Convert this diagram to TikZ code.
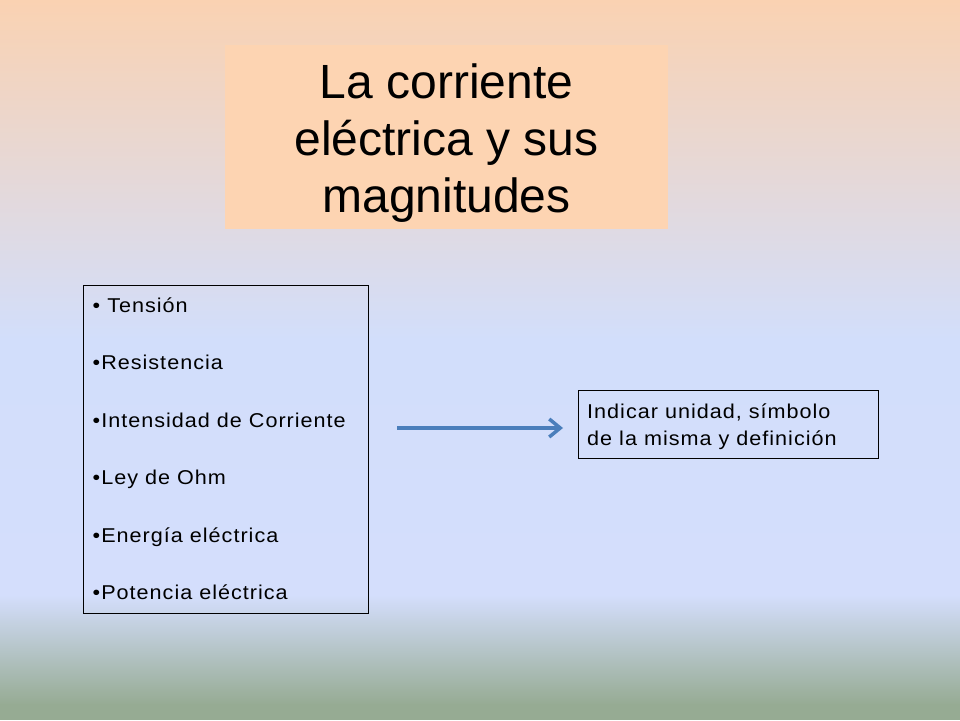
\documentclass[tikz,border=0pt]{standalone}
\usepackage{fontspec}
\setmainfont{Liberation Sans}
\newfontfamily\boxfont[LetterSpace=5,FakeStretch=1.08]{Liberation Sans}
\usetikzlibrary{arrows.meta}
\definecolor{bgtop}{HTML}{FAD2B2}
\definecolor{bgblue}{HTML}{D2DEFB}
\definecolor{bgblue2}{HTML}{D4DEFC}
\definecolor{bggreen}{HTML}{96AB93}
\definecolor{titlefill}{HTML}{FDD4B2}
\definecolor{arrowblue}{HTML}{4A7EBB}
\begin{document}
\begin{tikzpicture}[x=1pt,y=-1pt,
  titlebox/.style={draw=none, fill=titlefill, minimum width=443pt, minimum height=184pt, inner sep=0pt},
  titleline/.style={anchor=base, inner sep=0pt, font=\fontsize{48}{57}\selectfont},
  framebox/.style={draw=black, line width=1pt, inner sep=0pt},
  item/.style={anchor=base west, inner sep=0pt, font=\boxfont\fontsize{20}{24}\selectfont},
  connector/.style={draw=arrowblue, line width=3.5pt, -{Straight Barb[length=11pt,width=18pt]}}
]
\useasboundingbox (0,0) rectangle (960,720);
% background
\shade[top color=bgtop, bottom color=bgblue] (0,0) rectangle (960,340);
\shade[top color=bgblue, bottom color=bgblue2] (0,340) rectangle (960,596);
\shade[top color=bgblue2, bottom color=bggreen] (0,595) rectangle (960,705);
\fill[bggreen] (0,704) rectangle (960,720);
% title
\node[titlebox] (title) at (446.5,137) {};
\node[titleline] (t1) at (446.5,98.5) {La corriente};
\node[titleline] (t2) at (446.5,155) {eléctrica y sus};
\node[titleline] (t3) at (446.5,212) {magnitudes};
% list box
\node[framebox, minimum width=285pt, minimum height=328pt] (list) at (225.5,449) {};
\node[item] (i1) at (92.5,312) {• Tensión};
\node[item] (i2) at (92.5,369.5) {•Resistencia};
\node[item] (i3) at (92.5,427) {•Intensidad de Corriente};
\node[item] (i4) at (92.5,484.5) {•Ley de Ohm};
\node[item] (i5) at (92.5,542) {•Energía eléctrica};
\node[item] (i6) at (92.5,599.5) {•Potencia eléctrica};
% right box
\node[framebox, minimum width=300pt, minimum height=68pt] (info) at (728,424) {};
\node[item] (r1) at (587,418) {Indicar unidad, símbolo};
\node[item] (r2) at (587,445) {de la misma y definición};
% arrow
\coordinate (a1) at (397,428);
\coordinate (a2) at (563,428);
\draw[connector] (a1) -- (a2);
\end{tikzpicture}
\end{document}
